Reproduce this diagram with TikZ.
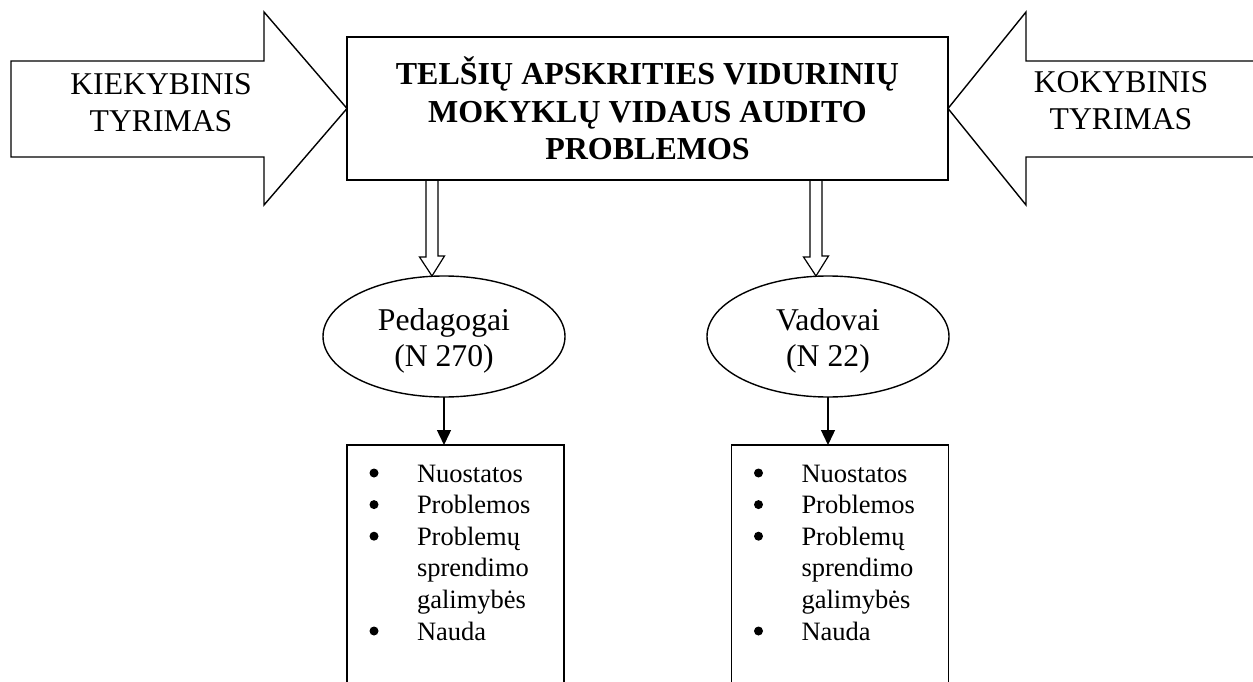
\documentclass[tikz,border=0pt]{standalone}
\usepackage{fontspec}
\setmainfont{Liberation Serif}
\usetikzlibrary{arrows.meta,shapes.geometric}
\begin{document}
\begin{tikzpicture}[x=1pt,y=-1pt,
  every node/.style={inner sep=0pt,outer sep=0pt},
  frame/.style={line width=1.4pt,line join=miter},
  hollow/.style={line width=1.2pt,line join=miter},
  lbl/.style={font=\fontsize{31.7}{37}\selectfont,align=center},
  ell/.style={draw,frame,ellipse,minimum width=242pt,minimum height=121pt,font=\fontsize{31.7}{36}\selectfont,align=center},
  listbox/.style={minimum width=217pt,minimum height=260pt,anchor=north},
  listtext/.style={anchor=base west,font=\fontsize{26.5}{31.6}\selectfont},
  down/.style={line width=1.4pt,-{Triangle[width=14pt,length=15pt]}}]
\useasboundingbox (0,0) rectangle (1253,682);

% central box
\node[draw,frame,minimum width=601pt,minimum height=143pt,
      font=\bfseries\fontsize{32}{37.5}\selectfont,align=center] (title) at (647.5,108.5)
  {TELŠIŲ APSKRITIES VIDURINIŲ\\MOKYKLŲ VIDAUS AUDITO\\PROBLEMOS};

% left block arrow
\draw[frame] (11,61) -- (264,61) -- (264,12) -- (title.west) -- (264,205) -- (264,157) -- (11,157) -- cycle;
\node[lbl] (kiek) at (161,103) {KIEKYBINIS\\TYRIMAS};

% right block arrow (cut by the page edge)
\draw[frame] (1256,61) -- (1026,61) -- (1026,12) -- (title.east) -- (1026,205) -- (1026,157) -- (1256,157);
\node[lbl] (koky) at (1121,101) {KOKYBINIS\\TYRIMAS};

% ellipses
\node[ell] (ped) at (444,336.5) {\rule{0pt}{31pt}Pedagogai\\(N 270)};
\node[ell] (vad) at (828,336.5) {\rule{0pt}{31pt}Vadovai\\(N 22)};

% hollow arrows from the central box to the ellipses
\coordinate (t1) at ([xshift=-12pt]ped.north);
\coordinate (t2) at ([xshift=-12pt]vad.north);
\draw[hollow] (title.south -| t1) ++(-6,0) -- ++(0,77) -- ++(-6.5,0) -- (t1) -- ++(12.5,-20) -- ++(-6.5,0) -- ++(0,-77);
\draw[hollow] (title.south -| t2) ++(-6,0) -- ++(0,77) -- ++(-6.5,0) -- (t2) -- ++(12.5,-20) -- ++(-6.5,0) -- ++(0,-77);

% list boxes (open at the bottom edge of the page)
\node[listbox] (pbox) at (455.5,445) {};
\node[listbox] (vbox) at (840,445) {};
\draw[frame] (pbox.south west) -- (pbox.north west) -- (pbox.north east) -- (pbox.south east);
\draw[frame] (vbox.south west) -- (vbox.north west) -- (vbox.north east) -- (vbox.south east);

\node[listtext] (plist) at ([shift={(70,37)}]pbox.north west)
  {\begin{tabular}[t]{@{}l@{}}Nuostatos\\Problemos\\Problemų\\sprendimo\\galimybės\\Nauda\end{tabular}};
\node[listtext] (vlist) at ([shift={(70,37)}]vbox.north west)
  {\begin{tabular}[t]{@{}l@{}}Nuostatos\\Problemos\\Problemų\\sprendimo\\galimybės\\Nauda\end{tabular}};

% bullets
\foreach \k in {0,1,2,5}{
  \fill ([shift={(27,28+31.6*\k)}]pbox.north west) circle (4.5);
  \fill ([shift={(27,28+31.6*\k)}]vbox.north west) circle (4.5);
}

% arrows from the ellipses to the list boxes
\draw[down] (ped.south) -- (ped.south |- pbox.north);
\draw[down] (vad.south) -- (vad.south |- vbox.north);
\end{tikzpicture}
\end{document}
